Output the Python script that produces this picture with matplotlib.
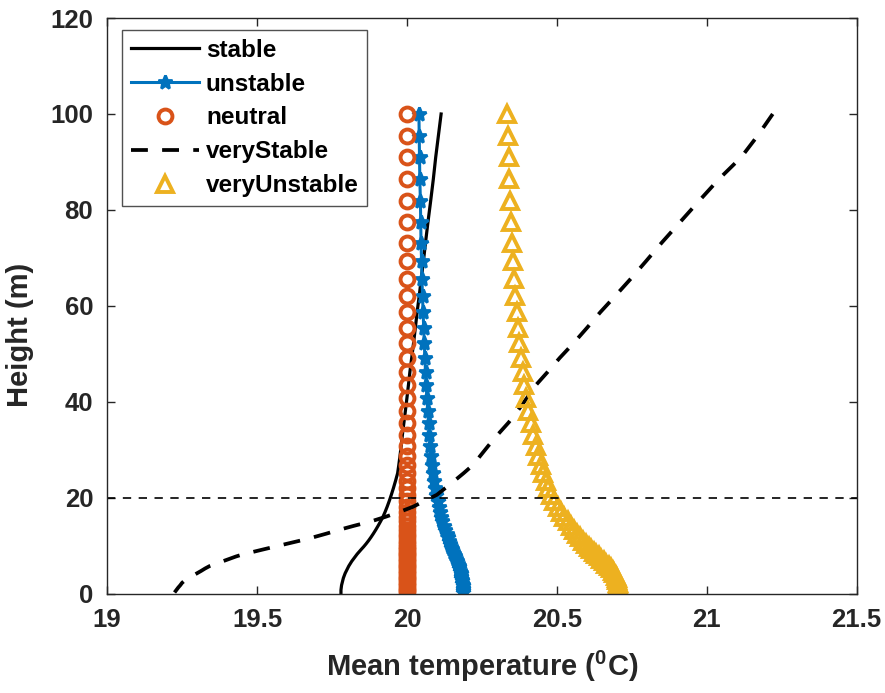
import matplotlib
matplotlib.use("Agg")
import matplotlib.pyplot as plt

plt.rcParams['font.family'] = ['Liberation Sans', 'DejaVu Sans']
plt.rcParams['font.weight'] = 'bold'
plt.rcParams['mathtext.fontset'] = 'custom'
plt.rcParams['mathtext.rm'] = 'Liberation Sans:bold'
plt.rcParams['mathtext.bf'] = 'Liberation Sans:bold'

# Vertical grid levels (m), stretched towards the ground
height = [0.3, 0.8, 1.3, 1.8, 2.3, 2.8, 3.3, 3.8, 4.3, 4.8, 5.3, 5.8, 6.3, 6.8,
          7.3, 7.8, 8.3, 8.8, 9.3, 9.85, 10.45, 11.1, 11.8, 12.55, 13.35, 14.2,
          15.1, 16.05, 17.05, 18.15, 19.35, 20.65, 22.05, 23.55, 25.15, 26.9,
          28.8, 30.9, 33.2, 35.7, 38.2, 40.8, 43.5, 46.3, 49.2, 52.2, 55.4, 58.7,
          62.1, 65.7, 69.3, 73.2, 77.4, 81.8, 86.4, 91.0, 95.5, 100.0]

# Mean temperature profiles (deg C)
t_stable = [19.780, 19.780, 19.781, 19.782, 19.784, 19.786, 19.788, 19.791, 19.794,
            19.798, 19.802, 19.806, 19.811, 19.816, 19.822, 19.828, 19.834, 19.841,
            19.848, 19.856, 19.864, 19.872, 19.880, 19.888, 19.896, 19.904, 19.912,
            19.920, 19.927, 19.934, 19.941, 19.948, 19.955, 19.962, 19.969, 19.973,
            19.977, 19.981, 19.985, 19.990, 19.995, 20.000, 20.005, 20.010, 20.016,
            20.022, 20.028, 20.034, 20.041, 20.048, 20.055, 20.062, 20.070, 20.079,
            20.088, 20.096, 20.105, 20.114]
t_unstable = [20.188, 20.188, 20.187, 20.186, 20.185, 20.184, 20.182, 20.181, 20.179,
              20.177, 20.175, 20.173, 20.170, 20.167, 20.164, 20.161, 20.158, 20.155,
              20.151, 20.148, 20.145, 20.141, 20.137, 20.133, 20.128, 20.123, 20.118,
              20.114, 20.110, 20.106, 20.102, 20.098, 20.095, 20.091, 20.088, 20.085,
              20.081, 20.078, 20.075, 20.072, 20.069, 20.067, 20.064, 20.062, 20.060,
              20.058, 20.056, 20.054, 20.052, 20.050, 20.049, 20.047, 20.046, 20.045,
              20.043, 20.042, 20.041, 20.040]
t_neutral = [20.0] * 58
t_very_stable = [19.225, 19.231, 19.237, 19.244, 19.250, 19.259, 19.272, 19.286, 19.300,
                 19.314, 19.327, 19.342, 19.364, 19.386, 19.408, 19.430, 19.456, 19.490,
                 19.523, 19.560, 19.600, 19.644, 19.688, 19.731, 19.774, 19.824, 19.880,
                 19.928, 19.974, 20.020, 20.058, 20.100, 20.128, 20.158, 20.189, 20.221,
                 20.245, 20.272, 20.303, 20.339, 20.370, 20.400, 20.430, 20.470, 20.510,
                 20.555, 20.600, 20.645, 20.695, 20.747, 20.797, 20.850, 20.910, 20.973,
                 21.040, 21.115, 21.170, 21.220]
t_very_unstable = [20.705, 20.706, 20.706, 20.705, 20.704, 20.702, 20.699, 20.696, 20.692,
                   20.687, 20.680, 20.673, 20.665, 20.657, 20.648, 20.640, 20.632, 20.623,
                   20.615, 20.607, 20.597, 20.587, 20.576, 20.566, 20.556, 20.546, 20.536,
                   20.525, 20.514, 20.503, 20.491, 20.481, 20.472, 20.463, 20.454, 20.446,
                   20.438, 20.430, 20.421, 20.413, 20.405, 20.398, 20.392, 20.386, 20.380,
                   20.375, 20.370, 20.366, 20.362, 20.358, 20.355, 20.351, 20.348, 20.345,
                   20.342, 20.340, 20.337, 20.335]

x_ticks = [19, 19.5, 20, 20.5, 21, 21.5]
x_tick_labels = ['19', '19.5', '20', '20.5', '21', '21.5']
y_ticks = [0, 20, 40, 60, 80, 100, 120]
y_tick_labels = ['0', '20', '40', '60', '80', '100', '120']
ref_height = 20

BLUE = '#0072BD'
ORANGE = '#D95319'
YELLOW = '#EDB120'
AX_COLOR = '#262626'

fig = plt.figure(figsize=(8.85, 6.93), dpi=100)
ax = fig.add_axes([0.121, 0.143, 0.847, 0.831])

ax.plot(t_stable, height, color='black', lw=2.3, label='stable')
ax.plot(t_unstable, height, color=BLUE, lw=2.2, marker='*', ms=10, mew=2.0,
        label='unstable')
ax.plot(t_neutral, height, ls='none', marker='o', ms=10, mfc='none', mec=ORANGE,
        mew=2.8, label='neutral')
# drawn top-down so the dash pattern starts at the upper end
ax.plot(t_very_stable[::-1], height[::-1], color='black', lw=2.7,
        dashes=(4.5, 3.8), label='veryStable')
ax.plot(t_very_unstable, height, ls='none', marker='^', ms=11, mfc='none',
        mec=YELLOW, mew=2.8, label='veryUnstable')
ax.axhline(ref_height, color='black', lw=1.2, dashes=(5, 4.5))

ax.set_xlim(19, 21.5)
ax.set_ylim(0, 120)
ax.set_xticks(x_ticks)
ax.set_xticklabels(x_tick_labels)
ax.set_yticks(y_ticks)
ax.set_yticklabels(y_tick_labels)
ax.tick_params(direction='in', top=True, right=True, length=6, width=1,
               colors=AX_COLOR, labelsize=18.5, pad=10)
for lbl in ax.get_xticklabels() + ax.get_yticklabels():
    lbl.set_fontweight('bold')
for s in ax.spines.values():
    s.set_color(AX_COLOR)
    s.set_linewidth(1.0)

ax.set_xlabel(r'Mean temperature ($^{0}$C)', fontsize=21, fontweight='bold',
              color=AX_COLOR, labelpad=12)
ax.set_ylabel('Height (m)', fontsize=21, fontweight='bold', color=AX_COLOR)
ax.yaxis.set_label_coords(-0.098, 0.45)

leg = ax.legend(loc='upper left', bbox_to_anchor=(0.02, 0.979), borderaxespad=0,
                fontsize=17.5, frameon=True, fancybox=False, numpoints=1,
                handlelength=2.8, handletextpad=0.3, labelspacing=0.45,
                borderpad=0.35)
leg.get_frame().set_edgecolor(AX_COLOR)
leg.get_frame().set_linewidth(1.0)
for t in leg.get_texts():
    t.set_fontweight('bold')

fig.savefig('out.png', dpi=100)
